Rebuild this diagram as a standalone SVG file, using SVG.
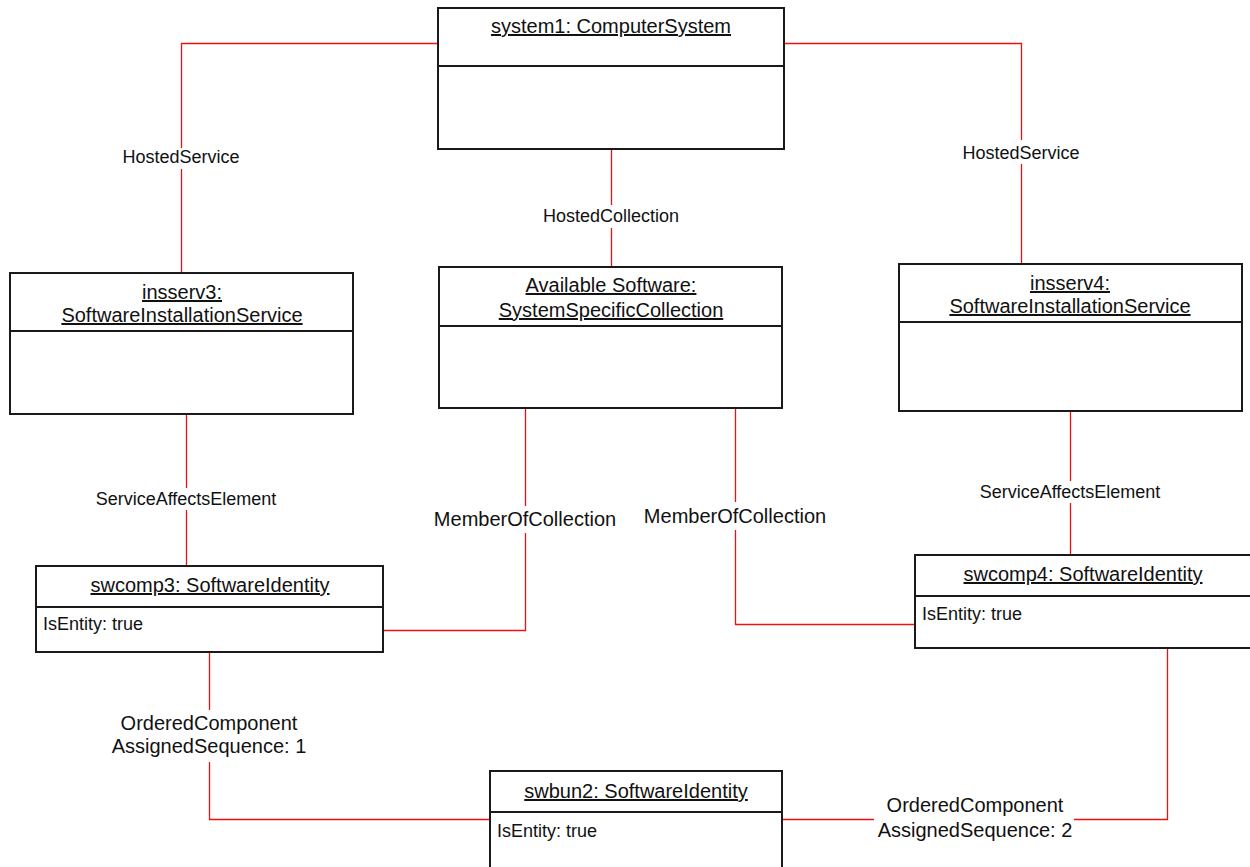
<svg xmlns="http://www.w3.org/2000/svg" width="1250" height="867" viewBox="0 0 1250 867">
<style>
.box{fill:#fff;stroke:#1a1a1a;stroke-width:2}
.div{stroke:#1a1a1a;stroke-width:2}
.t{font-family:"Liberation Sans",Arial,sans-serif;font-size:20px;fill:#111;text-anchor:middle;text-decoration:underline}
.a{font-family:"Liberation Sans",Arial,sans-serif;font-size:18px;fill:#111}
.l18{font-family:"Liberation Sans",Arial,sans-serif;font-size:18px;fill:#111;text-anchor:middle}
.l20{font-family:"Liberation Sans",Arial,sans-serif;font-size:20px;fill:#111;text-anchor:middle}
.c{fill:none;stroke:#ee1111;stroke-width:1.3}
</style>
<rect width="1250" height="867" fill="#fff"/>
<g id="connectors">
<path class="c" d="M438,43.5 H181.5 V148 M181.5,169 V273"/>
<path class="c" d="M784,43.5 H1021.5 V140 M1021.5,164 V264"/>
<path class="c" d="M611.5,149 V205 M611.5,228 V267"/>
<path class="c" d="M186.5,414 V488 M186.5,510 V566"/>
<path class="c" d="M1070.5,411 V481 M1070.5,503 V555"/>
<path class="c" d="M525.5,408 V506 M525.5,533 V630.5 H383"/>
<path class="c" d="M735.5,408 V502 M735.5,530 V624.5 H915"/>
<path class="c" d="M209.5,652 V710 M209.5,762 V819.5 H490"/>
<path class="c" d="M1167.5,648 V819.5 H1074 M874,819.5 H782"/>
<text class="l18" x="181" y="163">HostedService</text>
<text class="l18" x="1021" y="159">HostedService</text>
<text class="l18" x="611" y="222">HostedCollection</text>
<text class="l18" x="186" y="505">ServiceAffectsElement</text>
<text class="l18" x="1070" y="498">ServiceAffectsElement</text>
<text class="l20" x="525" y="526">MemberOfCollection</text>
<text class="l20" x="735" y="523">MemberOfCollection</text>
<text class="l20" x="209" y="730">OrderedComponent</text>
<text class="l20" x="209" y="753">AssignedSequence: 1</text>
<text class="l20" x="975" y="812">OrderedComponent</text>
<text class="l20" x="975" y="837">AssignedSequence: 2</text>
</g>
<g id="system1">
<rect class="box" x="438" y="8" width="346" height="141"/>
<line class="div" x1="438" y1="66" x2="784" y2="66"/>
<text class="t" x="611" y="33">system1: ComputerSystem</text>
</g>
<g id="insserv3">
<rect class="box" x="10" y="273" width="343" height="141"/>
<line class="div" x1="10" y1="331" x2="353" y2="331"/>
<text class="t" x="182" y="299">insserv3:</text>
<text class="t" x="182" y="322">SoftwareInstallationService</text>
</g>
<g id="availableSoftware">
<rect class="box" x="439" y="267" width="343" height="141"/>
<line class="div" x1="439" y1="326" x2="782" y2="326"/>
<text class="t" x="611" y="292">Available Software:</text>
<text class="t" x="611" y="317">SystemSpecificCollection</text>
</g>
<g id="insserv4">
<rect class="box" x="899" y="264" width="343" height="147"/>
<line class="div" x1="899" y1="322" x2="1242" y2="322"/>
<text class="t" x="1070" y="290">insserv4:</text>
<text class="t" x="1070" y="313">SoftwareInstallationService</text>
</g>
<g id="swcomp3">
<rect class="box" x="36" y="566" width="347" height="86"/>
<line class="div" x1="36" y1="607" x2="383" y2="607"/>
<text class="t" x="210" y="592">swcomp3: SoftwareIdentity</text>
<text class="a" x="43" y="630">IsEntity: true</text>
</g>
<g id="swcomp4">
<rect class="box" x="915" y="555" width="336" height="93"/>
<line class="div" x1="915" y1="596" x2="1251" y2="596"/>
<text class="t" x="1083" y="581">swcomp4: SoftwareIdentity</text>
<text class="a" x="922" y="620">IsEntity: true</text>
</g>
<g id="swbun2">
<rect class="box" x="490" y="771" width="292" height="110"/>
<line class="div" x1="490" y1="812" x2="782" y2="812"/>
<text class="t" x="636" y="798">swbun2: SoftwareIdentity</text>
<text class="a" x="497" y="837">IsEntity: true</text>
</g>
</svg>
